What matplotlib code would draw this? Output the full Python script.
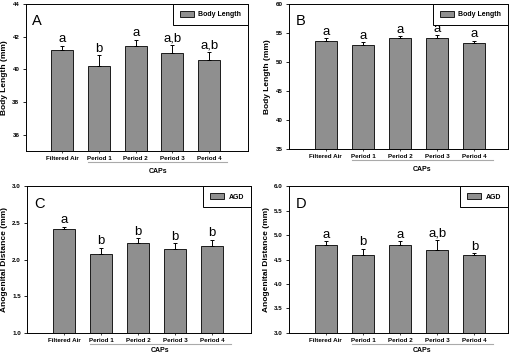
import matplotlib
matplotlib.use("Agg")
import matplotlib.pyplot as plt

plt.rcParams['font.family'] = ['Liberation Sans', 'DejaVu Sans']

categories = ["Filtered Air", "Period 1", "Period 2", "Period 3", "Period 4"]

a_vals = [41.2, 40.2, 41.4, 41.0, 40.6]
a_err = [0.25, 0.65, 0.4, 0.5, 0.45]
a_lbl = ["a", "b", "a", "a,b", "a,b"]

b_vals = [53.7, 53.0, 54.1, 54.2, 53.3]
b_err = [0.4, 0.4, 0.35, 0.45, 0.4]
b_lbl = ["a", "a", "a", "a", "a"]

c_vals = [2.41, 2.07, 2.22, 2.15, 2.18]
c_err = [0.04, 0.09, 0.07, 0.07, 0.09]
c_lbl = ["a", "b", "b", "b", "b"]

d_vals = [4.80, 4.60, 4.80, 4.70, 4.60]
d_err = [0.07, 0.12, 0.08, 0.20, 0.03]
d_lbl = ["a", "b", "a", "a,b", "b"]

W, H = 514, 354
fig = plt.figure(figsize=(W / 100, H / 100), dpi=100)


def px_axes(left, top, right, bottom):
    return fig.add_axes([left / W, (H - bottom) / H, (right - left) / W, (bottom - top) / H])


panels = [
    dict(box=(25.7, 4, 248, 151), vals=a_vals, err=a_err, lbl=a_lbl, letter="A",
         ylim=(35, 44), yticks=[36, 38, 40, 42, 44], fmt="{:.0f}",
         ylabel="Body Length (mm)", legend="Body Length", xmax=6.06, caps_y=-0.115),
    dict(box=(288.7, 4, 507.7, 149.3), vals=b_vals, err=b_err, lbl=b_lbl, letter="B",
         ylim=(35, 60), yticks=[35, 40, 45, 50, 55, 60], fmt="{:.0f}",
         ylabel="Body Length (mm)", legend="Body Length", xmax=5.9, caps_y=-0.115),
    dict(box=(27.3, 186.3, 250.7, 332.7), vals=c_vals, err=c_err, lbl=c_lbl, letter="C",
         ylim=(1.0, 3.0), yticks=[1.0, 1.5, 2.0, 2.5, 3.0], fmt="{:.1f}",
         ylabel="Anogenital Distance (mm)", legend="AGD", xmax=6.04, caps_y=-0.095),
    dict(box=(288.7, 186.3, 507.7, 332.7), vals=d_vals, err=d_err, lbl=d_lbl, letter="D",
         ylim=(3.0, 6.0), yticks=[3.0, 3.5, 4.0, 4.5, 5.0, 5.5, 6.0], fmt="{:.1f}",
         ylabel="Anogenital Distance (mm)", legend="AGD", xmax=5.9, caps_y=-0.095),
]

bar_color = "#8f8f8f"

for p in panels:
    ax = px_axes(*p["box"])
    x = list(range(1, len(categories) + 1))
    ax.bar(x, p["vals"], width=0.6, color=bar_color, edgecolor="black",
           linewidth=0.6, label=p["legend"], zorder=2)
    ax.errorbar(x, p["vals"], yerr=[[0] * len(x), p["err"]], fmt="none",
                ecolor="black", elinewidth=0.7, capsize=1.5, capthick=0.7, zorder=3)
    span = p["ylim"][1] - p["ylim"][0]
    for xi, v, e, t in zip(x, p["vals"], p["err"], p["lbl"]):
        ax.text(xi, v + e + span * 0.003, t, ha="center", va="bottom", fontsize=9.5)
    ax.set_xlim(0, p["xmax"])
    ax.set_ylim(*p["ylim"])
    ax.set_yticks(p["yticks"])
    ax.set_yticklabels([p["fmt"].format(t) for t in p["yticks"]], fontsize=4.5, fontweight="bold")
    ax.set_xticks(x)
    ax.set_xticklabels(categories, fontsize=4.5, fontweight="bold")
    ax.tick_params(axis="y", direction="out", length=2.5, width=0.6, pad=2)
    ax.tick_params(axis="x", direction="out", length=1.5, width=0.5, pad=2)
    for s in ax.spines.values():
        s.set_linewidth(0.7)
    ax.set_ylabel(p["ylabel"], fontsize=6, fontweight="bold", labelpad=3)
    ax.text(0.03, 0.93, p["letter"], transform=ax.transAxes, fontsize=10.5, va="top", ha="left")
    leg = ax.legend(loc="upper right", borderaxespad=0, fancybox=False,
                    prop={"size": 5, "weight": "bold"}, handlelength=2.0, handleheight=0.9,
                    borderpad=1.0, handletextpad=0.6, framealpha=1)
    leg.get_frame().set_edgecolor("black")
    leg.get_frame().set_linewidth(0.7)
    trans = ax.get_xaxis_transform()
    ax.plot([1.7, 5.5], [-0.075, -0.075], color="#aaaaaa", linewidth=0.8,
            transform=trans, clip_on=False)
    ax.text(3.6, p["caps_y"], "CAPs", transform=trans, ha="center", va="top",
            fontsize=5, fontweight="bold")

fig.savefig("out.png", dpi=100)
